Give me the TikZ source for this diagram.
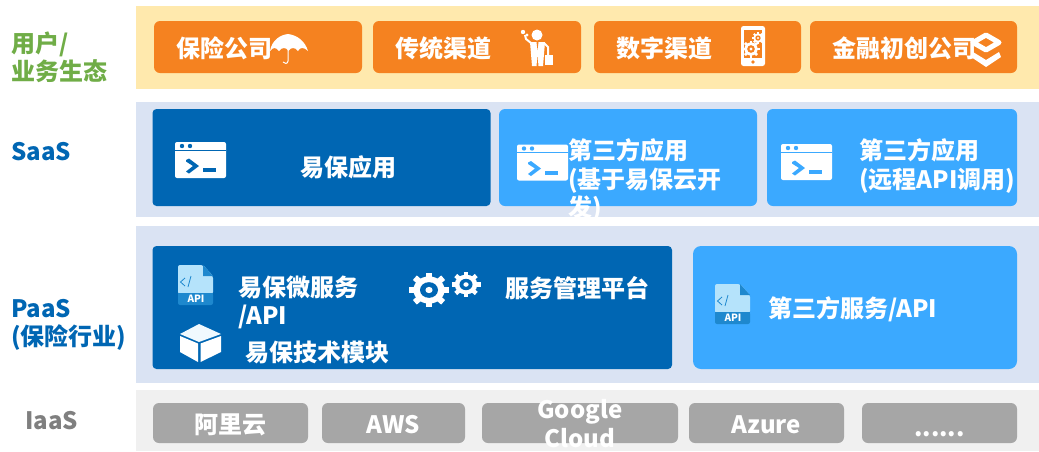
\documentclass[tikz,border=0pt]{standalone}
\usepackage{fontspec}
\setmainfont{Noto Sans CJK SC}
\definecolor{userband}{HTML}{FFE9AD}
\definecolor{cloudband}{HTML}{DAE3F3}
\definecolor{iaasband}{HTML}{F0F0F0}
\definecolor{orangetile}{HTML}{F58220}
\definecolor{darktile}{HTML}{0066B3}
\definecolor{lighttile}{HTML}{3BA9FF}
\definecolor{graytile}{HTML}{A6A6A6}
\definecolor{greentext}{HTML}{70AD47}
\definecolor{graytext}{HTML}{7F7F7F}
\definecolor{apipaper}{HTML}{B5E3FB}
\definecolor{apiband}{HTML}{1E88CE}
\tikzset{
  band/.style={rectangle, anchor=north west, inner sep=0pt, outer sep=0pt},
  tile/.style={rectangle, rounded corners=#1, anchor=north west, inner sep=0pt, outer sep=0pt},
  tile/.default=5pt,
  tiletext/.style={anchor=west, align=left, inner sep=0pt, yshift=-1.5pt, text=white, font=\fontsize{24}{28.5}\selectfont\bfseries},
  sidetext/.style={anchor=west, align=left, inner sep=0pt, yshift=-1pt, font=\fontsize{24}{28.5}\selectfont\bfseries},
}
% window with prompt
\newcommand{\termicon}[3]{
  \begin{scope}[shift={(#1,#2)}]
    \fill[white, rounded corners=2pt] (0,0) rectangle (51,36);
    \fill[#3] (0,7.5) rectangle (51,8.7);
    \fill[#3] (7,4) circle (2.2) (15,4) circle (2.2);
    \fill[#3] (11,18) -- (14,16.5) -- (24,24) -- (14,31.5) -- (11,29.5) -- (18,24) -- (11,19.5) -- cycle;
    \fill[#3] (28,26) rectangle (41,30);
  \end{scope}
}
% file with api tag
\newcommand{\apiicon}[2]{
  \begin{scope}[shift={(#1,#2)}]
    \fill[apipaper, rounded corners=2pt] (0,0) -- (25,0) -- (35,11) -- (35,29) -- (0,29) -- cycle;
    \fill[apiband] (25,0) -- (35,11) -- (25,11) -- cycle;
    \fill[apiband, rounded corners=2pt] (0,28) rectangle (35,40);
    \fill[apiband] (0,28) rectangle (35,33);
    \draw[apiband, line width=0.8pt] (7,13) -- (2.5,17) -- (7,21) (13,11) -- (10,22);
    \node[inner sep=0pt, text=white, font=\fontsize{10}{10}\selectfont\bfseries] (api#1) at (18,34) {API};
  \end{scope}
}
% gear: centre, radius, body colour, hole colour, vertical squeeze
\newcommand{\gearicon}[6]{
  \begin{scope}[shift={(#1,#2)}, yscale=#6]
    \foreach \a in {0,45,...,315}
      \draw[#4, line width=0.3*#3 pt] (\a:0.6*#3) -- (\a:#3);
    \fill[#4] (0,0) circle (0.78*#3);
    \fill[#5] (0,0) circle (0.45*#3);
    \fill[#4] (0,0) circle (0.18*#3);
  \end{scope}
}
\begin{document}
\begin{tikzpicture}[x=1pt, y=-1pt]
    \useasboundingbox (0,0) rectangle (1039,451);

    % Bands
    \node[band, fill=userband, minimum width=903pt, minimum height=83pt] (userbg) at (136,6) {};
    \node[band, fill=cloudband, minimum width=903pt, minimum height=115pt] (saasbg) at (136,102) {};
    \node[band, fill=cloudband, minimum width=903pt, minimum height=157pt] (paasbg) at (136,226) {};
    \node[band, fill=iaasband, minimum width=903pt, minimum height=61pt] (iaasbg) at (136,390) {};

    % Side labels
    \node[sidetext, text=greentext] (userlabel) at (11,56.5) {用户/\\业务生态};
    \node[sidetext, text=darktile] (saaslabel) at (11,151) {SaaS};
    \node[sidetext, text=darktile] (paaslabel) at (11,324) {PaaS\\(保险行业)};
    \node[sidetext, text=graytext] (iaaslabel) at (25,420) {IaaS};

    % User tiles
    \node[tile=6pt, fill=orangetile, minimum width=208pt, minimum height=52pt] (insurer) at (154,21) {};
    \node[tile=6pt, fill=orangetile, minimum width=208pt, minimum height=52pt] (channel) at (373,21) {};
    \node[tile=6pt, fill=orangetile, minimum width=207pt, minimum height=52pt] (digital) at (594,21) {};
    \node[tile=6pt, fill=orangetile, minimum width=207pt, minimum height=52pt] (startup) at (810,21) {};
    \node[tiletext] (insurertext) at (176,47) {保险公司};
    \node[tiletext] (channeltext) at (395,47) {传统渠道};
    \node[tiletext] (digitaltext) at (616,47) {数字渠道};
    \node[tiletext] (startuptext) at (832,47) {金融初创公司};

    % Umbrella
    \fill[white] (270,51) .. controls (272,40) and (280,35) .. (288,34) .. controls (297,35) and (305,41) .. (308,51)
      .. controls (304,47) and (300,47) .. (298,51) .. controls (295,47) and (291,47) .. (288.5,51)
      .. controls (286,47) and (282,47) .. (279,51) .. controls (276,47) and (273,47) .. (270,51) -- cycle;
    \draw[white, line width=1pt] (288,50) -- (288,61) .. controls (288,64) and (284,64) .. (283,62);

    % Man with briefcase
    \fill[white] (537,35) circle (5.5);
    \fill[white] (530,42) -- (545,42) -- (544,54) -- (543,66) -- (538.5,66) -- (537.5,54) -- (536.5,66) -- (532,66) -- (531,54) -- cycle;
    \draw[white, line width=2pt] (531,43) -- (526,39) -- (525,35);
    \draw[white, line width=2pt] (544,43) -- (548,47) -- (548,55);
    \fill[white] (523,32) circle (2.2) (527,35) circle (1.6);
    \fill[white] (545,55) rectangle (552.5,64.5);
    \fill[orangetile] (536.5,42) -- (538.5,42) -- (537.5,50) -- cycle;

    % Phone
    \fill[white, rounded corners=2.5pt] (741,26) rectangle (765,66);
    \fill[orangetile] (744,30) rectangle (762,58);
    \fill[orangetile] (753,62) circle (1.8);
    \gearicon{751}{49}{8.5}{white}{orangetile}{1}
    \gearicon{758}{38}{6}{white}{orangetile}{1}

    % Open box
    \draw[white, line width=5pt, line join=round] (986,35) -- (999,42.5) -- (986,50) -- (973,42.5) -- cycle;
    \fill[white] (973,52) -- (986,60) -- (999,52) -- (1001,57) -- (986,67) -- (971,57) -- cycle;

    % SaaS tiles
    \node[tile=4pt, fill=darktile, minimum width=338pt, minimum height=97pt] (yibaoapp) at (152.5,109) {};
    \node[tile=6pt, fill=lighttile, minimum width=258pt, minimum height=97pt] (thirdapp) at (499,109) {};
    \node[tile=6pt, fill=lighttile, minimum width=250pt, minimum height=97pt] (remoteapp) at (767,109) {};
    \termicon{175}{142}{darktile}
    \termicon{517}{144.5}{lighttile}
    \termicon{781}{144}{lighttile}
    \node[tiletext] (yibaoapptext) at (300,166) {易保应用};
    \node[tiletext] (thirdapptext) at (568,178.5) {第三方应用\\(基于易保云开\\发)};
    \node[tiletext] (remoteapptext) at (859,164.5) {第三方应用\\(远程API调用)};

    % PaaS tiles
    \node[tile=4pt, fill=darktile, minimum width=519.5pt, minimum height=123pt] (platform) at (152.5,246) {};
    \node[tile=8pt, fill=lighttile, minimum width=324pt, minimum height=123pt] (thirdapi) at (693,246) {};
    \apiicon{178}{265}
    \apiicon{715}{284}
    \gearicon{429}{290}{20}{white}{darktile}{0.87}
    \gearicon{466}{284.5}{14.5}{white}{darktile}{0.87}
    \fill[white!80!apipaper] (199,324) -- (221,334) -- (199,342) -- (180,334) -- cycle;
    \fill[white] (180,336) -- (198,343.5) -- (198,362) -- (180,352) -- cycle;
    \fill[white] (221,336) -- (200.5,343.5) -- (200.5,362) -- (221,352) -- cycle;
    \node[tiletext] (microtext) at (238,301) {易保微服务\\/API};
    \node[tiletext] (managetext) at (505,287) {服务管理平台};
    \node[tiletext] (moduletext) at (245,351) {易保技术模块};
    \node[tiletext] (thirdapitext) at (768,308) {第三方服务/API};

    % IaaS tiles
    \node[tile=6pt, fill=graytile, minimum width=155pt, minimum height=40pt] (aliyun) at (153,403) {};
    \node[tile=6pt, fill=graytile, minimum width=143pt, minimum height=40pt] (aws) at (322,403) {};
    \node[tile=6pt, fill=graytile, minimum width=196pt, minimum height=40pt] (google) at (482,403) {};
    \node[tile=6pt, fill=graytile, minimum width=155pt, minimum height=40pt] (azure) at (689,403) {};
    \node[tile=6pt, fill=graytile, minimum width=155pt, minimum height=40pt] (more) at (862,403) {};
    \node[tiletext, anchor=center] (aliyuntext) at (aliyun) {阿里云};
    \node[tiletext, anchor=center] (awstext) at (aws) {AWS};
    \node[tiletext, anchor=center, align=center] (googletext) at (580,422) {Google\\Cloud};
    \node[tiletext, anchor=center] (azuretext) at (azure) {Azure};
    \node[tiletext, anchor=center] (moretext) at (939.5,432.5) {.{}.{}.{}.{}.{}.};
\end{tikzpicture}
\end{document}
